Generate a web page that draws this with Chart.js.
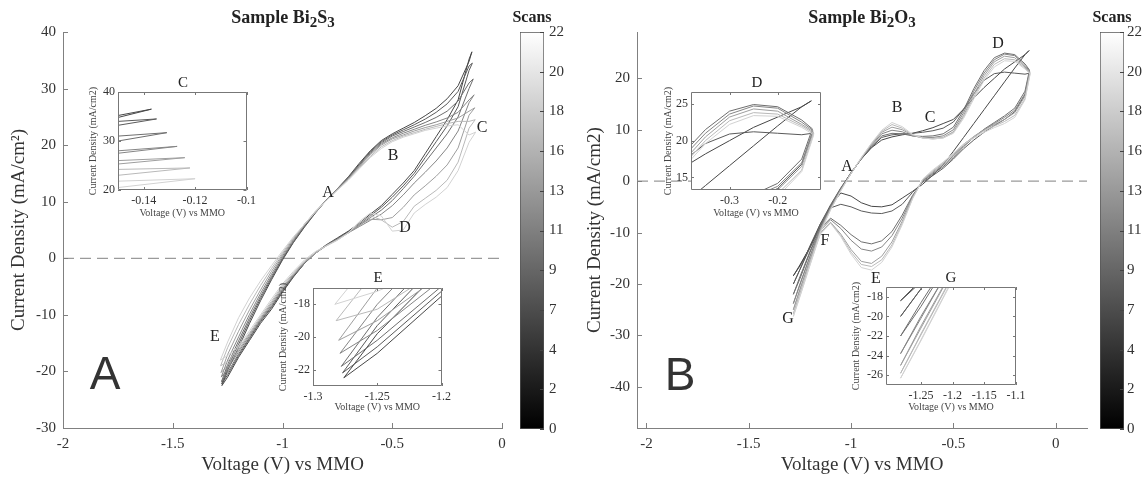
<!DOCTYPE html>
<html>
<head>
<meta charset="utf-8">
<script src="https://cdn.jsdelivr.net/npm/chart.js@4.4.1/dist/chart.umd.min.js"></script>
<style>
body { margin: 0; background: #fff; }
#fig { position: relative; width: 1146px; height: 477px; overflow: hidden; font-family: "Liberation Serif", serif; color: #222; }
#fig canvas { position: absolute; }
.lbl { position: absolute; transform: translate(-50%, -50%); white-space: nowrap; }
.pt { font-size: 16px; }
.ttl { font-size: 18px; font-weight: bold; }
.scans { font-size: 16px; font-weight: bold; }
.big { font-family: "Liberation Sans", sans-serif; font-size: 46px; color: #333; }
.ins { font-size: 15px; }
</style>
</head>
<body>
<div id="fig">
  <canvas id="mainA" width="515" height="477" style="left:0;top:0"></canvas>
  <canvas id="barA" width="60" height="477" style="left:512px;top:0"></canvas>
  <canvas id="insetC" width="190" height="160" style="left:70px;top:70px"></canvas>
  <canvas id="insetE" width="190" height="165" style="left:265px;top:265px"></canvas>

  <canvas id="mainB" width="512" height="477" style="left:580px;top:0"></canvas>
  <canvas id="barB" width="54" height="477" style="left:1092px;top:0"></canvas>
  <canvas id="insetD" width="195" height="160" style="left:640px;top:70px"></canvas>
  <canvas id="insetG" width="195" height="165" style="left:835px;top:265px"></canvas>

  <div class="lbl ttl" style="left:283px;top:19px">Sample Bi<sub>2</sub>S<sub>3</sub></div>
  <div class="lbl ttl" style="left:862px;top:19px">Sample Bi<sub>2</sub>O<sub>3</sub></div>
  <div class="lbl scans" style="left:532px;top:17px">Scans</div>
  <div class="lbl scans" style="left:1112px;top:17px">Scans</div>
  <div class="lbl big" style="left:105px;top:373px">A</div>
  <div class="lbl big" style="left:680px;top:374px">B</div>

  <div class="lbl pt" style="left:328px;top:192px">A</div>
  <div class="lbl pt" style="left:393px;top:155px">B</div>
  <div class="lbl pt" style="left:482px;top:127px">C</div>
  <div class="lbl pt" style="left:405px;top:227px">D</div>
  <div class="lbl pt" style="left:215px;top:336px">E</div>

  <div class="lbl pt" style="left:847px;top:166px">A</div>
  <div class="lbl pt" style="left:897px;top:107px">B</div>
  <div class="lbl pt" style="left:930px;top:117px">C</div>
  <div class="lbl pt" style="left:998px;top:43px">D</div>
  <div class="lbl pt" style="left:876px;top:278px">E</div>
  <div class="lbl pt" style="left:825px;top:240px">F</div>
  <div class="lbl pt" style="left:788px;top:318px">G</div>

  <div class="lbl ins" style="left:183px;top:82px">C</div>
  <div class="lbl ins" style="left:378px;top:277px">E</div>
  <div class="lbl ins" style="left:757px;top:82px">D</div>
  <div class="lbl ins" style="left:951px;top:277px">G</div>
</div>

<script>
// DATOS:
// voltage path of one scan: cathodic end -> anodic turn (index 24) -> back
const voltGrid = [-1.28, -1.25, -1.2, -1.15, -1.1, -1.05, -1.0, -0.95, -0.9, -0.85, -0.8, -0.75, -0.7, -0.65, -0.6, -0.55, -0.5, -0.45, -0.4, -0.35, -0.3, -0.25, -0.2, -0.15,
  -0.13,
  -0.15, -0.2, -0.25, -0.3, -0.35, -0.4, -0.45, -0.5, -0.55, -0.6, -0.65, -0.7, -0.75, -0.8, -0.85, -0.9, -0.95, -1.0, -1.05, -1.1, -1.15, -1.2, -1.25, -1.28];

const scanNumbers = [1, 4, 7, 10, 14, 18, 22];
const scanGrays = ["#474747", "#5a5a5a", "#6e6e6e", "#858585", "#9e9e9e", "#b9b9b9", "#d2d2d2"];

// Sample Bi2S3
const bi2s3Start = [-1.276, -1.277, -1.278, -1.279, -1.28, -1.282, -1.283];
const bi2s3Tip = [-0.137, -0.135, -0.131, -0.127, -0.124, -0.122, -0.12];
const bi2s3Scan1 = [-22.5, -19.8, -15.8, -11.5, -7.5, -3.8, -0.3, 2.8, 5.5, 8.0, 10.3, 12.3, 14.4, 16.8, 19.0, 20.8, 22.0, 23.0, 24.0, 25.2, 26.5, 28.2, 30.5, 34.8,
  36.5,
  35.2, 28.0, 24.5, 21.5, 18.5, 15.5, 13.3, 11.3, 9.3, 7.8, 6.2, 4.8, 3.6, 2.4, 1.0, -0.9, -3.3, -6.0, -9.0, -11.5, -14.5, -17.5, -21.0, -22.5];
const bi2s3Scan4 = [-22.2, -19.3, -15.2, -11.0, -7.1, -3.5, -0.1, 2.9, 5.6, 8.1, 10.3, 12.3, 14.3, 16.6, 18.9, 20.6, 21.8, 22.7, 23.6, 24.6, 25.8, 27.3, 29.5, 34.0,
  34.5,
  33.2, 26.8, 23.4, 20.6, 17.8, 15.0, 12.8, 10.8, 9.0, 7.5, 6.0, 4.7, 3.5, 2.3, 0.9, -0.9, -3.2, -5.8, -8.7, -11.2, -14.2, -17.2, -20.6, -22.2];
const bi2s3Scan7 = [-21.8, -18.8, -14.6, -10.5, -6.7, -3.2, 0.1, 3.0, 5.7, 8.1, 10.3, 12.3, 14.2, 16.5, 18.7, 20.4, 21.6, 22.4, 23.2, 24.0, 24.9, 26.0, 27.8, 31.0,
  31.7,
  30.0, 25.0, 22.0, 19.5, 17.0, 14.5, 12.3, 10.2, 8.5, 7.2, 5.8, 4.6, 3.4, 2.3, 0.9, -0.9, -3.1, -5.6, -8.5, -11.0, -14.0, -16.9, -20.2, -21.8];
const bi2s3Scan10 = [-21.0, -18.0, -13.9, -9.9, -6.2, -2.8, 0.4, 3.2, 5.8, 8.2, 10.3, 12.2, 14.1, 16.3, 18.5, 20.2, 21.3, 22.1, 22.8, 23.5, 24.1, 24.8, 25.8, 28.0,
  28.9,
  27.5, 22.5, 19.5, 17.2, 15.2, 13.3, 11.2, 9.3, 7.8, 6.7, 5.6, 4.5, 3.4, 2.3, 0.9, -0.8, -3.0, -5.4, -8.2, -10.8, -13.7, -16.5, -19.6, -21.0];
const bi2s3Scan14 = [-20.2, -17.0, -12.9, -9.1, -5.6, -2.3, 0.7, 3.4, 6.0, 8.3, 10.3, 12.2, 14.0, 16.2, 18.3, 20.0, 21.1, 21.8, 22.5, 23.1, 23.6, 24.2, 24.8, 26.0,
  26.6,
  25.3, 19.5, 16.5, 14.5, 12.8, 11.2, 9.0, 7.2, 6.8, 6.9, 5.9, 4.5, 3.3, 2.2, 0.9, -0.7, -2.8, -5.1, -7.9, -10.6, -13.4, -16.2, -19.0, -20.2];
const bi2s3Scan18 = [-19.0, -15.8, -11.7, -8.1, -4.8, -1.8, 1.0, 3.6, 6.0, 8.2, 10.2, 12.1, 13.9, 16.0, 18.0, 19.7, 20.8, 21.6, 22.2, 22.8, 23.3, 23.8, 24.2, 24.2,
  24.5,
  23.0, 17.0, 13.8, 12.0, 10.6, 9.2, 6.5, 5.5, 6.8, 7.5, 6.2, 4.5, 3.2, 2.2, 1.0, -0.5, -2.6, -4.8, -7.6, -10.3, -13.2, -15.8, -18.3, -19.0];
const bi2s3Scan22 = [-18.0, -14.8, -10.5, -7.0, -4.0, -1.3, 1.3, 3.8, 6.0, 8.2, 10.2, 12.0, 13.8, 15.8, 17.8, 19.4, 20.6, 21.4, 22.0, 22.6, 23.0, 23.4, 23.6, 21.8,
  22.3,
  20.5, 15.5, 12.5, 10.8, 9.5, 8.0, 5.0, 4.8, 7.5, 8.0, 6.5, 4.5, 3.2, 2.2, 1.2, -0.3, -2.3, -4.5, -7.2, -10.0, -12.8, -15.5, -17.2, -18.0];

// Sample Bi2O3
const bi2o3Start = [-1.282, -1.282, -1.282, -1.282, -1.282, -1.282, -1.282];
const bi2o3Tip = [-0.13, -0.128, -0.128, -0.127, -0.126, -0.125, -0.125];
const bi2o3Scan1 = [-18.4, -16.3, -12.8, -8.9, -5.2, -1.6, 1.7, 4.3, 6.5, 8.0, 8.6, 9.0, 9.3, 9.8, 10.4, 11.2, 12.0, 14.0, 16.2, 18.2, 20.0, 21.8, 23.2, 24.6,
  25.4,
  24.6, 22.0, 19.3, 16.6, 13.9, 11.2, 8.5, 5.8, 3.2, 1.2, -0.6, -2.0, -3.3, -4.6, -5.0, -4.9, -4.2, -2.9, -2.3, -4.8, -8.5, -12.8, -16.5, -18.4];
const bi2o3Scan4 = [-20.0, -17.2, -12.9, -8.3, -4.6, -1.3, 1.6, 4.3, 6.6, 8.5, 9.0, 9.2, 9.3, 9.5, 9.8, 10.3, 11.5, 14.0, 17.0, 19.6, 20.9, 21.2, 21.0, 20.8,
  21.0,
  16.8, 13.5, 12.0, 10.8, 9.5, 8.0, 6.3, 4.3, 2.5, 1.1, -0.2, -2.2, -4.5, -5.8, -6.3, -6.2, -5.8, -5.0, -4.5, -5.2, -8.3, -12.5, -17.2, -20.0];
const bi2o3Scan7 = [-22.0, -18.6, -13.6, -8.6, -4.8, -1.4, 1.6, 4.4, 6.8, 8.8, 9.3, 9.2, 8.8, 8.7, 8.8, 9.2, 10.5, 13.8, 18.0, 21.5, 24.0, 24.9, 24.6, 22.8,
  21.6,
  17.5, 14.2, 12.7, 11.4, 10.1, 8.5, 6.7, 4.6, 2.8, 1.4, 0.0, -2.8, -6.6, -9.8, -11.6, -12.2, -11.8, -10.4, -8.6, -7.2, -9.2, -13.8, -19.0, -22.0];
const bi2o3Scan10 = [-23.8, -20.0, -14.6, -9.2, -5.1, -1.6, 1.5, 4.4, 7.0, 9.2, 9.9, 9.6, 8.8, 8.5, 8.5, 8.8, 10.0, 13.3, 17.5, 21.0, 23.6, 24.7, 24.4, 22.5,
  21.4,
  17.0, 13.8, 12.4, 11.2, 10.0, 8.6, 6.9, 4.9, 3.1, 1.6, 0.1, -3.0, -7.2, -10.6, -12.8, -13.6, -13.2, -11.5, -9.2, -7.5, -9.6, -14.5, -20.2, -23.8];
const bi2o3Scan14 = [-25.0, -21.0, -15.2, -9.5, -5.3, -1.7, 1.5, 4.5, 7.2, 9.5, 10.5, 10.0, 8.9, 8.4, 8.3, 8.5, 9.6, 12.8, 16.9, 20.5, 23.2, 24.3, 24.0, 22.2,
  21.2,
  16.5, 13.3, 12.0, 11.0, 10.0, 8.7, 7.1, 5.2, 3.4, 1.8, 0.2, -3.2, -7.8, -11.8, -14.6, -16.0, -15.6, -13.3, -10.3, -8.0, -10.0, -15.3, -21.2, -25.0];
const bi2o3Scan18 = [-25.8, -21.8, -15.8, -9.8, -5.5, -1.8, 1.5, 4.5, 7.3, 9.7, 11.0, 10.3, 9.0, 8.4, 8.2, 8.4, 9.4, 12.5, 16.4, 20.0, 22.7, 23.8, 23.6, 22.0,
  21.0,
  16.0, 12.8, 11.6, 10.7, 9.8, 8.6, 7.2, 5.4, 3.6, 2.0, 0.3, -3.4, -8.2, -12.4, -15.3, -16.6, -16.2, -13.8, -10.6, -8.1, -10.2, -15.9, -21.9, -25.8];
const bi2o3Scan22 = [-26.3, -22.4, -16.2, -10.0, -5.6, -1.9, 1.5, 4.6, 7.4, 9.9, 11.4, 10.6, 9.1, 8.4, 8.2, 8.4, 9.3, 12.2, 16.0, 19.6, 22.2, 23.4, 23.3, 21.8,
  20.8,
  15.8, 12.4, 11.2, 10.4, 9.5, 8.4, 7.1, 5.4, 3.7, 2.2, 0.4, -3.5, -8.5, -12.8, -15.8, -17.3, -16.8, -14.2, -10.8, -8.2, -10.3, -16.3, -22.5, -26.3];

const bi2s3Scans = [bi2s3Scan1, bi2s3Scan4, bi2s3Scan7, bi2s3Scan10, bi2s3Scan14, bi2s3Scan18, bi2s3Scan22];
const bi2o3Scans = [bi2o3Scan1, bi2o3Scan4, bi2o3Scan7, bi2o3Scan10, bi2o3Scan14, bi2o3Scan18, bi2o3Scan22];

// ejes
const xTicksMain = [-2, -1.5, -1, -0.5, 0];
const yTicksA = [-30, -20, -10, 0, 10, 20, 30, 40];
const yTicksB = [-40, -30, -20, -10, 0, 10, 20];
const colorbarTicks = [0, 2.2, 4.4, 6.6, 8.8, 11, 13.2, 15.4, 17.6, 19.8, 22];
const colorbarLabels = ["0", "2", "4", "7", "9", "11", "13", "16", "18", "20", "22"];

// FUNCIONES:
const SERIF = '"Liberation Serif", serif';

const innerTicks = {
  id: "innerTicks",
  beforeDatasetsDraw(chart, args, opts) {
    if (!opts.fill) return;
    const a = chart.chartArea;
    chart.ctx.save();
    chart.ctx.fillStyle = opts.fill;
    chart.ctx.fillRect(a.left, a.top, a.right - a.left, a.bottom - a.top);
    chart.ctx.restore();
  },
  afterDraw(chart, args, opts) {
    if (!opts.sides) return;
    const ctx = chart.ctx;
    const a = chart.chartArea;
    const len = opts.len || 4;
    ctx.save();
    ctx.strokeStyle = opts.color || "#777";
    ctx.lineWidth = 1;
    ctx.beginPath();
    opts.sides.forEach(function(side) {
      const sc = (side === "bottom" || side === "top") ? chart.scales.x : chart.scales.y;
      sc.ticks.forEach(function(t) {
        const p = Math.round(sc.getPixelForValue(t.value)) + 0.5;
        if (side === "bottom") { ctx.moveTo(p, a.bottom); ctx.lineTo(p, a.bottom - len); }
        if (side === "top") { ctx.moveTo(p, a.top); ctx.lineTo(p, a.top + len); }
        if (side === "left") { ctx.moveTo(a.left, p); ctx.lineTo(a.left + len, p); }
        if (side === "right") { ctx.moveTo(a.right, p); ctx.lineTo(a.right - len, p); }
      });
    });
    if (opts.box) {
      ctx.rect(Math.round(a.left) + 0.5, Math.round(a.top) + 0.5, Math.round(a.right - a.left) - 1, Math.round(a.bottom - a.top) - 1);
    }
    ctx.stroke();
    ctx.restore();
  }
};
Chart.register(innerTicks);

function scanDatasets(scans, starts, tips) {
  return scans.map(function(js, s) {
    const pts = voltGrid.map(function(v, i) {
      let x = v;
      if (i === 0 || i === voltGrid.length - 1) x = starts[s];
      if (i === 24) x = tips[s];
      return { x: x, y: js[i] };
    });
    return {
      label: "Scan " + scanNumbers[s],
      data: pts,
      showLine: true,
      pointRadius: 0,
      borderColor: scanGrays[s],
      borderWidth: 1,
      clip: 0,
      order: -scanNumbers[s]
    };
  });
}

function zeroLine(xMin, xMax) {
  return {
    label: "cero",
    data: [{ x: xMin, y: 0 }, { x: xMax, y: 0 }],
    showLine: true,
    pointRadius: 0,
    borderColor: "#9a9a9a",
    borderWidth: 1.3,
    borderDash: [11, 6],
    order: 100
  };
}

function fixedTicks(values) {
  return function(scale) { scale.ticks = values.map(function(v) { return { value: v }; }); };
}

function mainChart(id, cfg) {
  const datasets = [zeroLine(cfg.xMin, cfg.xMax)].concat(scanDatasets(cfg.scans, cfg.starts, cfg.tips));
  return new Chart(document.getElementById(id), {
    type: "scatter",
    data: { datasets: datasets },
    options: {
      responsive: false,
      animation: false,
      events: [],
      layout: { padding: { top: 32, right: cfg.padRight, left: 0, bottom: 0 } },
      plugins: {
        legend: { display: false },
        tooltip: { enabled: false },
        innerTicks: { sides: ["bottom", "left"], len: 5, color: "#808080" }
      },
      scales: {
        x: {
          type: "linear", min: cfg.xMin, max: cfg.xMax,
          afterBuildTicks: fixedTicks(xTicksMain),
          afterFit: function(s) { s.height = 49; },
          grid: { display: false, drawTicks: false },
          border: { display: true, color: "#808080", width: 1 },
          ticks: { color: "#333", font: { family: SERIF, size: 15 }, padding: 7, maxRotation: 0, autoSkip: false,
            callback: function(v) { return String(v); } },
          title: { display: true, text: "Voltage (V) vs MMO", color: "#333", font: { family: SERIF, size: 19 }, padding: { top: 0, bottom: 1 } }
        },
        y: {
          type: "linear", min: cfg.yMin, max: cfg.yMax,
          afterBuildTicks: fixedTicks(cfg.yTicks),
          afterFit: function(s) { s.width = cfg.yWidth; },
          grid: { display: false, drawTicks: false },
          border: { display: true, color: "#808080", width: 1 },
          ticks: { color: "#333", font: { family: SERIF, size: 15 }, padding: 7, autoSkip: false,
            callback: function(v) { return String(v); } },
          title: { display: true, text: cfg.yTitle, color: "#333", font: { family: SERIF, size: 19 }, padding: { top: cfg.yTitlePad, bottom: 0 } }
        }
      }
    }
  });
}

function insetChart(id, cfg) {
  return new Chart(document.getElementById(id), {
    type: "scatter",
    data: { datasets: scanDatasets(cfg.scans, cfg.starts, cfg.tips) },
    options: {
      responsive: false,
      animation: false,
      events: [],
      layout: { padding: { top: cfg.padTop, right: cfg.padRight, left: 0, bottom: 0 } },
      plugins: {
        legend: { display: false },
        tooltip: { enabled: false },
        innerTicks: { sides: ["bottom", "top", "left", "right"], len: 3, color: "#777", box: true, fill: "#fff" }
      },
      scales: {
        x: {
          type: "linear", min: cfg.xMin, max: cfg.xMax,
          afterBuildTicks: fixedTicks(cfg.xTicks),
          afterFit: function(s) { s.height = cfg.xHeight; },
          grid: { display: false, drawTicks: false },
          border: { display: false },
          ticks: { color: "#333", font: { family: SERIF, size: 12 }, padding: 4, maxRotation: 0, autoSkip: false,
            callback: function(v) { return String(v); } },
          title: { display: true, text: "Voltage (V) vs MMO", color: "#444", font: { family: SERIF, size: 10 }, padding: { top: 0, bottom: cfg.xTitlePad } }
        },
        y: {
          type: "linear", min: cfg.yMin, max: cfg.yMax,
          afterBuildTicks: fixedTicks(cfg.yTicks),
          afterFit: function(s) { s.width = cfg.yWidth; },
          grid: { display: false, drawTicks: false },
          border: { display: false },
          ticks: { color: "#333", font: { family: SERIF, size: 12 }, padding: 3, autoSkip: false,
            callback: function(v) { return String(v); } },
          title: { display: true, text: "Current Density (mA/cm2)", color: "#444", font: { family: SERIF, size: 10 }, padding: { top: cfg.yTitlePad, bottom: 0 } }
        }
      }
    }
  });
}

function colorbarChart(id, yWidth, labelPad) {
  return new Chart(document.getElementById(id), {
    type: "bar",
    data: {
      labels: ["Scans"],
      datasets: [{
        data: [22],
        barPercentage: 1,
        categoryPercentage: 1,
        borderColor: "#555",
        borderWidth: 1,
        borderSkipped: false,
        backgroundColor: function(context) {
          const a = context.chart.chartArea;
          if (!a) return "#888";
          const g = context.chart.ctx.createLinearGradient(0, a.bottom, 0, a.top);
          g.addColorStop(0, "#000");
          g.addColorStop(1, "#fff");
          return g;
        }
      }]
    },
    options: {
      responsive: false,
      animation: false,
      events: [],
      layout: { padding: { top: 32, bottom: 48, left: 8, right: 0 } },
      plugins: {
        legend: { display: false },
        tooltip: { enabled: false },
        innerTicks: { sides: ["right"], len: 4, color: "#444" }
      },
      scales: {
        x: { display: false },
        y: {
          position: "right", min: 0, max: 22,
          afterBuildTicks: fixedTicks(colorbarTicks),
          afterFit: function(s) { s.width = yWidth; },
          grid: { display: false, drawTicks: false },
          border: { display: false },
          ticks: { color: "#333", font: { family: SERIF, size: 15 }, padding: labelPad, autoSkip: false,
            callback: function(v, i) { return colorbarLabels[i]; } }
        }
      }
    }
  });
}

// GRAFICOS:
mainChart("mainA", {
  scans: bi2s3Scans, starts: bi2s3Start, tips: bi2s3Tip,
  xMin: -2, xMax: 0, yMin: -30, yMax: 40, yTicks: yTicksA,
  padRight: 13, yWidth: 63, yTitlePad: 8,
  yTitle: "Current Density (mA/cm²)"
});
mainChart("mainB", {
  scans: bi2o3Scans, starts: bi2o3Start, tips: bi2o3Tip,
  xMin: -2.046, xMax: 0.153, yMin: -48, yMax: 29, yTicks: yTicksB,
  padRight: 5, yWidth: 57, yTitlePad: 4,
  yTitle: "Current Density (mA/cm2)"
});

insetChart("insetC", {
  scans: bi2s3Scans, starts: bi2s3Start, tips: bi2s3Tip,
  xMin: -0.15, xMax: -0.1, xTicks: [-0.14, -0.12, -0.1],
  yMin: 20, yMax: 40, yTicks: [20, 30, 40],
  padTop: 22, padRight: 11, yWidth: 48, xHeight: 40, yTitlePad: 17, xTitlePad: 11
});
insetChart("insetE", {
  scans: bi2s3Scans, starts: bi2s3Start, tips: bi2s3Tip,
  xMin: -1.3, xMax: -1.2, xTicks: [-1.3, -1.25, -1.2],
  yMin: -23, yMax: -17, yTicks: [-22, -20, -18],
  padTop: 23, padRight: 12, yWidth: 48, xHeight: 44, yTitlePad: 12, xTitlePad: 17
});
insetChart("insetD", {
  scans: bi2o3Scans, starts: bi2o3Start, tips: bi2o3Tip,
  xMin: -0.38, xMax: -0.11, xTicks: [-0.3, -0.2],
  yMin: 13.3, yMax: 26.6, yTicks: [15, 20, 25],
  padTop: 22, padRight: 14, yWidth: 51, xHeight: 40, yTitlePad: 22, xTitlePad: 11
});
insetChart("insetG", {
  scans: bi2o3Scans, starts: bi2o3Start, tips: bi2o3Tip,
  xMin: -1.305, xMax: -1.1, xTicks: [-1.25, -1.2, -1.15, -1.1],
  yMin: -27, yMax: -17, yTicks: [-26, -24, -22, -20, -18],
  padTop: 22, padRight: 14, yWidth: 51, xHeight: 45, yTitlePad: 15, xTitlePad: 17
});

colorbarChart("barA", 28, 5);
colorbarChart("barB", 22, 3);
</script>
</body>
</html>
